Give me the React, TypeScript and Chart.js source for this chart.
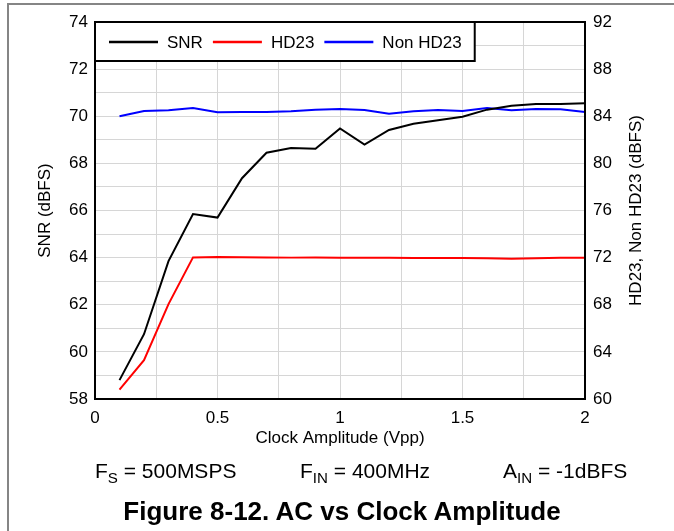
import React, { useEffect, useRef } from "react";
import { Chart, registerables } from "chart.js";

Chart.register(...registerables);

// ---- data ----
const clockAmplitude = [0.1, 0.2, 0.3, 0.4, 0.5, 0.6, 0.7, 0.8, 0.9, 1.0, 1.1, 1.2, 1.3, 1.4, 1.5, 1.6, 1.7, 1.8, 1.9, 2.0];
const snr = [58.8, 60.75, 63.85, 65.85, 65.7, 67.37, 68.45, 68.65, 68.62, 69.48, 68.8, 69.42, 69.68, 69.83, 69.98, 70.28, 70.45, 70.52, 70.52, 70.55];
const hd23 = [60.8, 63.3, 68.05, 72.02, 72.06, 72.04, 72.02, 72.0, 72.02, 71.98, 71.98, 71.98, 71.96, 71.96, 71.96, 71.94, 71.9, 71.94, 71.98, 71.98];
const nonHd23 = [84.0, 84.45, 84.5, 84.7, 84.34, 84.36, 84.36, 84.42, 84.56, 84.62, 84.53, 84.22, 84.42, 84.53, 84.45, 84.7, 84.5, 84.62, 84.59, 84.36];

const seriesNames = ["SNR", "HD23", "Non HD23"];
const seriesColors = ["#000000", "#ff0000", "#0000ff"];

const xTickLabels = [0, 0.5, 1, 1.5, 2];
const leftTickLabels = [58, 60, 62, 64, 66, 68, 70, 72, 74];
const rightTickLabels = [60, 64, 68, 72, 76, 80, 84, 88, 92];

const xTitle = "Clock Amplitude (Vpp)";
const leftTitle = "SNR (dBFS)";
const rightTitle = "HD23, Non HD23 (dBFS)";

const FONT = "'Liberation Sans', Arial, Helvetica, sans-serif";

const overlayPlugin = {
  id: "overlay",
  afterDatasetsDraw(chart: any) {
    const { ctx, chartArea: a } = chart;
    ctx.save();
    // legend box
    ctx.font = `17px ${FONT}`;
    const lineLen = 49;
    const gap = 9;
    const itemPad = 10;
    let x = a.left + 14;
    const items: any[] = [];
    chart.data.datasets.forEach((ds: any) => {
      const w = ctx.measureText(ds.label).width;
      items.push({ x, label: ds.label, color: ds.borderColor, w });
      x += lineLen + gap + w + itemPad;
    });
    const boxRight = x - itemPad + 13;
    const boxTop = a.top;
    const boxBottom = a.top + 39;
    ctx.fillStyle = "#ffffff";
    ctx.fillRect(a.left, boxTop, boxRight - a.left, boxBottom - boxTop);
    ctx.strokeStyle = "#000";
    ctx.lineWidth = 2;
    ctx.strokeRect(a.left, boxTop, boxRight - a.left, boxBottom - boxTop);
    const cy = a.top + 20;
    items.forEach((it) => {
      ctx.strokeStyle = it.color;
      ctx.lineWidth = 2.5;
      ctx.beginPath();
      ctx.moveTo(it.x, cy);
      ctx.lineTo(it.x + lineLen, cy);
      ctx.stroke();
      ctx.fillStyle = "#000";
      ctx.textAlign = "left";
      ctx.textBaseline = "middle";
      ctx.fillText(it.label, it.x + lineLen + gap, cy + 1);
    });
    // plot frame
    ctx.strokeStyle = "#000";
    ctx.lineWidth = 2;
    ctx.strokeRect(a.left, a.top, a.right - a.left, a.bottom - a.top);
    // right axis title (reads bottom to top)
    const r = chart.scales.y2;
    ctx.translate(r.right - 38, (a.top + a.bottom) / 2);
    ctx.rotate(-Math.PI / 2);
    ctx.fillStyle = "#000";
    ctx.font = `17px ${FONT}`;
    ctx.textAlign = "center";
    ctx.textBaseline = "middle";
    ctx.fillText(rightTitle, 0, 0);
    ctx.restore();
  },
};

export default function App() {
  const ref = useRef<HTMLCanvasElement | null>(null);

  useEffect(() => {
    if (!ref.current) return;
    Chart.defaults.font.family = FONT;
    Chart.defaults.color = "#000";
    const mk = (vals: number[]) => clockAmplitude.map((x, i) => ({ x, y: vals[i] }));
    const chart = new Chart(ref.current, {
      type: "line",
      data: {
        datasets: [
          { label: seriesNames[0], data: mk(snr), borderColor: seriesColors[0], yAxisID: "y", borderWidth: 2, pointRadius: 0, tension: 0 },
          { label: seriesNames[1], data: mk(hd23), borderColor: seriesColors[1], yAxisID: "y2", borderWidth: 2, pointRadius: 0, tension: 0 },
          { label: seriesNames[2], data: mk(nonHd23), borderColor: seriesColors[2], yAxisID: "y2", borderWidth: 2, pointRadius: 0, tension: 0 },
        ],
      },
      options: {
        animation: false,
        responsive: false,
        maintainAspectRatio: false,
        layout: { padding: { top: 22, left: 0, right: 0, bottom: 0 } },
        plugins: { legend: { display: false }, tooltip: { enabled: false } },
        scales: {
          x: {
            type: "linear",
            min: xTickLabels[0],
            max: xTickLabels[xTickLabels.length - 1],
            afterFit: (s: any) => { s.height = 132; },
            ticks: {
              stepSize: 0.25,
              autoSkip: false,
              maxRotation: 0,
              padding: 9,
              font: { size: 17 },
              callback: (v: any) => (xTickLabels.some((t) => Math.abs(t - v) < 1e-9) ? String(v) : ""),
            },
            grid: { color: "#d6d6d6", lineWidth: 1, drawTicks: false },
            border: { display: false },
            title: { display: true, text: xTitle, font: { size: 17 }, padding: { top: 0, bottom: 82 } },
          },
          y: {
            position: "left",
            min: leftTickLabels[0],
            max: leftTickLabels[leftTickLabels.length - 1],
            afterFit: (s: any) => { s.width = 95; },
            ticks: {
              stepSize: 1,
              autoSkip: false,
              padding: 7,
              font: { size: 17 },
              callback: (v: any) => (leftTickLabels.includes(v) ? String(v) : ""),
            },
            grid: { color: "#d6d6d6", lineWidth: 1, drawTicks: false },
            border: { display: false },
            title: { display: true, text: leftTitle, font: { size: 17 }, padding: { top: 35, bottom: 0 } },
          },
          y2: {
            position: "right",
            min: rightTickLabels[0],
            max: rightTickLabels[rightTickLabels.length - 1],
            afterFit: (s: any) => { s.width = 89; },
            ticks: {
              stepSize: 4,
              autoSkip: false,
              padding: 8,
              font: { size: 17 },
              callback: (v: any) => (rightTickLabels.includes(v) ? String(v) : ""),
            },
            grid: { display: false, drawTicks: false },
            border: { display: false },
          },
        },
      },
      plugins: [overlayPlugin],
    } as any);
    return () => chart.destroy();
  }, []);

  const sub: React.CSSProperties = { fontSize: "0.72em", verticalAlign: "-0.3em" };
  const line: React.CSSProperties = { position: "absolute", top: 460, fontSize: 21, lineHeight: "21px", whiteSpace: "nowrap" };

  return (
    <div style={{ position: "fixed", left: 0, top: 0, width: 674, height: 531, background: "#fff", fontFamily: FONT, color: "#000", overflow: "hidden" }}>
      <canvas ref={ref} width={674} height={531} style={{ position: "absolute", left: 0, top: 0, width: 674, height: 531 }} />
      <div style={{ position: "absolute", left: 8, top: 3, width: 666, height: 2, background: "#858585" }} />
      <div style={{ position: "absolute", left: 7, top: 3, width: 2, height: 528, background: "#858585" }} />
      <div style={{ ...line, left: 95 }}>F<span style={sub}>S</span> = 500MSPS</div>
      <div style={{ ...line, left: 300 }}>F<span style={sub}>IN</span> = 400MHz</div>
      <div style={{ ...line, left: 503 }}>A<span style={sub}>IN</span> = -1dBFS</div>
      <div style={{ position: "absolute", left: 0, width: 684, top: 498, textAlign: "center", fontSize: 26, lineHeight: "26px", fontWeight: "bold", whiteSpace: "nowrap" }}>
        Figure 8-12. AC vs Clock Amplitude
      </div>
    </div>
  );
}
